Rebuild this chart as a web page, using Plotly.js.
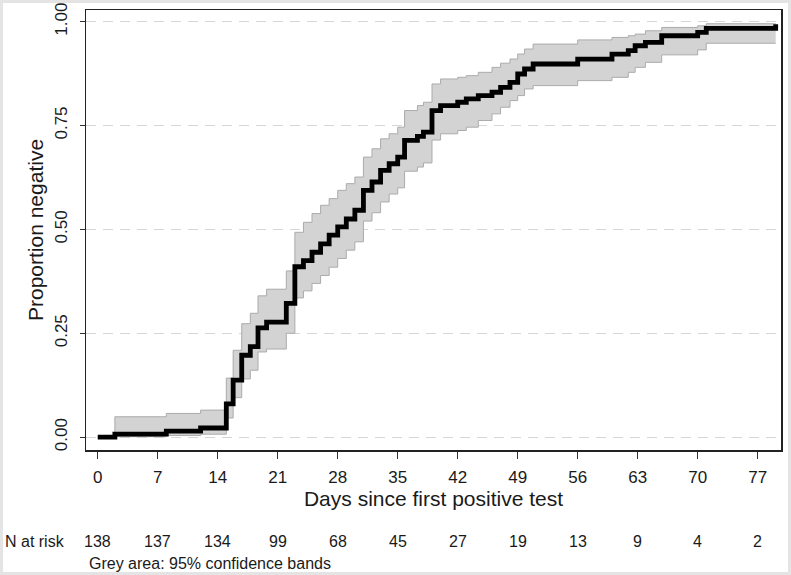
<!DOCTYPE html>
<html>
<head>
<meta charset="utf-8">
<script src="https://cdn.plot.ly/plotly-3.0.1.min.js"></script>
<style>
  html, body { margin: 0; padding: 0; background: #ffffff; }
  #wrap { position: relative; width: 791px; height: 575px; }
  #chart { width: 791px; height: 575px; }
  #frame { position: absolute; left: 0; top: 0; width: 791px; height: 575px; box-sizing: border-box; border: 3px solid #e4e4e4; pointer-events: none; }
</style>
</head>
<body>
<div id="wrap">
  <div id="chart"></div>
  <div id="frame"></div>
</div>
<script>
// Event days (step times), Kaplan-Meier proportion negative and 95% CI
const days = [0, 2, 8, 12, 15, 15.8, 16.8, 17.8, 18.7, 19.7,
  22, 23, 24, 25, 26, 27, 28, 29, 30,
  31, 32, 33, 34, 35, 35.8, 37.3, 38, 39, 40,
  42, 43, 44.4, 46, 47, 48.1, 49, 49.8, 50.8, 56,
  60, 61.9, 62.7, 63.9, 65.8, 70, 71, 79.1];
const propNegative = [0, 0.007, 0.0145, 0.022, 0.08, 0.137, 0.197, 0.218, 0.263, 0.277,
  0.322, 0.41, 0.425, 0.445, 0.465, 0.486, 0.506, 0.525, 0.546,
  0.594, 0.614, 0.642, 0.658, 0.674, 0.714, 0.724, 0.734, 0.786, 0.798,
  0.806, 0.814, 0.822, 0.830, 0.842, 0.854, 0.874, 0.886, 0.898, 0.910,
  0.922, 0.930, 0.942, 0.950, 0.966, 0.974, 0.984, 0.994];
const ciLower = [0, 0.001, 0.004, 0.007, 0.046, 0.095, 0.140, 0.161, 0.205, 0.212,
  0.250, 0.335, 0.352, 0.370, 0.389, 0.409, 0.430, 0.450, 0.470,
  0.520, 0.540, 0.566, 0.585, 0.600, 0.640, 0.650, 0.660, 0.715, 0.730,
  0.738, 0.746, 0.762, 0.778, 0.794, 0.810, 0.822, 0.838, 0.846, 0.858,
  0.866, 0.878, 0.890, 0.902, 0.920, 0.932, 0.948, 0.948];
const ciUpper = [0, 0.049, 0.057, 0.065, 0.142, 0.209, 0.273, 0.298, 0.340, 0.356,
  0.400, 0.493, 0.517, 0.538, 0.558, 0.574, 0.594, 0.610, 0.626,
  0.674, 0.694, 0.718, 0.730, 0.746, 0.786, 0.798, 0.806, 0.850, 0.862,
  0.866, 0.870, 0.878, 0.890, 0.900, 0.910, 0.922, 0.934, 0.946, 0.956,
  0.962, 0.966, 0.970, 0.978, 0.986, 0.990, 0.995, 0.995];

const xTicks = [0, 7, 14, 21, 28, 35, 42, 49, 56, 63, 70, 77];
const nAtRisk = [138, 137, 134, 99, 68, 45, 27, 19, 13, 9, 4, 2];
const yTicks = [0, 0.25, 0.5, 0.75, 1];
const yTickText = ["0.00", "0.25", "0.50", "0.75", "1.00"];

const FONT = "Liberation Sans, Arial, sans-serif";

const traces = [
  { x: days, y: ciLower, type: "scatter", mode: "lines",
    line: { shape: "hv", color: "#ababab", width: 1 }, hoverinfo: "skip", showlegend: false },
  { x: days, y: ciUpper, type: "scatter", mode: "lines", fill: "tonexty",
    fillcolor: "#d3d3d3",
    line: { shape: "hv", color: "#ababab", width: 1 }, hoverinfo: "skip", showlegend: false },
  { x: days, y: propNegative, type: "scatter", mode: "lines",
    line: { shape: "hv", color: "#000000", width: 4.8 }, showlegend: false }
];

const annotations = xTicks.map((d, i) => ({
  x: d, xref: "x", y: -0.207, yref: "paper", text: String(nAtRisk[i]),
  showarrow: false, xanchor: "center", yanchor: "middle",
  font: { family: FONT, size: 16, color: "#1a1a1a" }
}));
annotations.push({
  x: -0.12, xref: "paper", y: -0.207, yref: "paper", text: "N at risk",
  showarrow: false, xanchor: "left", yanchor: "middle",
  font: { family: FONT, size: 16, color: "#1a1a1a" }
});
annotations.push({
  x: 0.002, xref: "paper", y: -0.257, yref: "paper", text: "Grey area: 95% confidence bands",
  showarrow: false, xanchor: "left", yanchor: "middle",
  font: { family: FONT, size: 16, color: "#1a1a1a" }
});

const layout = {
  width: 791, height: 575,
  margin: { l: 86, r: 10, t: 10, b: 125 },
  paper_bgcolor: "#ffffff", plot_bgcolor: "#ffffff",
  font: { family: FONT, color: "#1a1a1a" },
  showlegend: false,
  xaxis: {
    range: [-1.37, 79.72], tickmode: "array", tickvals: xTicks,
    ticks: "outside", ticklen: 7, tickwidth: 1.2, tickcolor: "#333333",
    showline: true, mirror: true, linecolor: "#222222", linewidth: 1.5,
    showgrid: false, zeroline: false,
    tickfont: { family: FONT, size: 17, color: "#1a1a1a" },
    ticklabelstandoff: 4,
    title: { text: "Days since first positive test", font: { family: FONT, size: 21, color: "#1a1a1a" }, standoff: 0 }
  },
  yaxis: {
    range: [-0.031, 1.028], tickmode: "array", tickvals: yTicks, ticktext: yTickText,
    tickangle: -90,
    ticks: "outside", ticklen: 5, tickwidth: 1.2, tickcolor: "#333333",
    showline: true, mirror: true, linecolor: "#222222", linewidth: 1.5,
    showgrid: true, gridcolor: "#d6d6d6", gridwidth: 1, griddash: "10px,7px",
    zeroline: false,
    tickfont: { family: FONT, size: 17, color: "#1a1a1a" },
    ticklabelstandoff: 6,
    title: { text: "Proportion negative", font: { family: FONT, size: 21, color: "#1a1a1a" }, standoff: 2 }
  },
  annotations: annotations
};

Plotly.newPlot("chart", traces, layout, { displayModeBar: false, staticPlot: true });
</script>
</body>
</html>
